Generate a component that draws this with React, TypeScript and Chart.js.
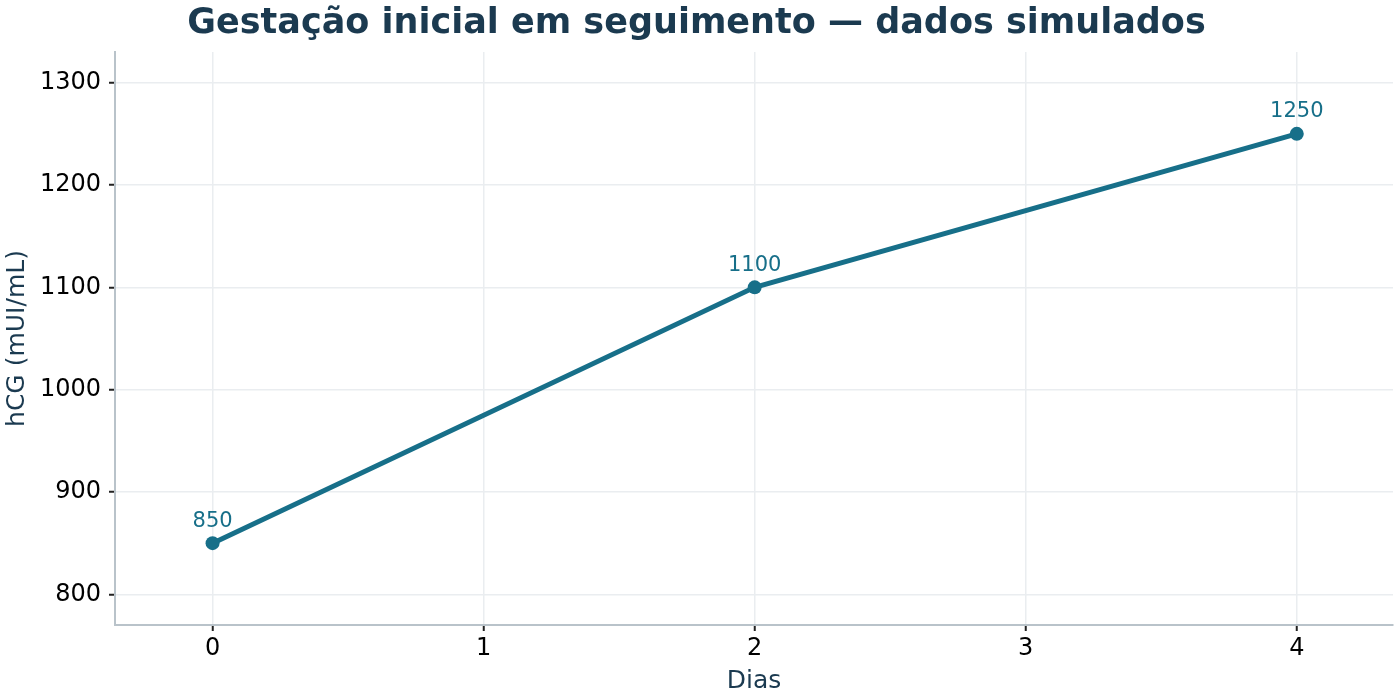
import React, { useRef, useEffect } from "react";
import Chart from "chart.js/auto";

const days = [0, 2, 4];
const hcgValues = [850, 1100, 1250];
const yTickValues = [800, 900, 1000, 1100, 1200, 1300];

const lineColor = "#176f89";
const textDark = "#1b3a50";

const pointLabels = {
  id: "pointLabels",
  afterDatasetsDraw(chart: Chart) {
    const ctx = chart.ctx;
    const meta = chart.getDatasetMeta(0);
    ctx.save();
    ctx.font = "21px 'DejaVu Sans'";
    ctx.fillStyle = lineColor;
    ctx.textAlign = "center";
    ctx.textBaseline = "middle";
    meta.data.forEach((pt: any, i: number) => {
      ctx.fillText(String(hcgValues[i]), pt.x, pt.y - 22);
    });
    ctx.restore();
  },
};

const App = () => {
  const chartRef = useRef<HTMLCanvasElement | null>(null);
  const chartInstanceRef = useRef<Chart | null>(null);

  useEffect(() => {
    document.body.style.margin = "0";
    const ctx = chartRef.current?.getContext("2d");

    if (chartInstanceRef.current) {
      chartInstanceRef.current.destroy();
    }

    if (ctx) {
      chartInstanceRef.current = new Chart(ctx, {
        type: "line",
        data: {
          datasets: [
            {
              label: "hCG",
              data: days.map((d, i) => ({ x: d, y: hcgValues[i] })),
              borderColor: lineColor,
              backgroundColor: lineColor,
              borderWidth: 5,
              pointRadius: 7,
              pointBorderWidth: 0,
              pointBackgroundColor: lineColor,
              tension: 0,
            },
          ],
        },
        options: {
          responsive: false,
          animation: false,
          layout: { padding: { top: 0, left: 0, right: 7, bottom: 4 } },
          plugins: {
            legend: { display: false },
            tooltip: { enabled: false },
            title: {
              display: true,
              text: "Gestação inicial em seguimento — dados simulados",
              color: textDark,
              font: { family: "'DejaVu Sans'", size: 35, weight: "bold" },
              padding: { top: 3, bottom: 7 },
            },
          },
          scales: {
            x: {
              type: "linear",
              min: -0.36,
              max: 4.355,
              afterFit: (scale: any) => {
                scale.height = 71;
              },
              ticks: {
                stepSize: 1,
                includeBounds: false,
                color: "#000",
                padding: 3,
                font: { family: "'DejaVu Sans'", size: 24 },
                callback: (v: any) => String(v),
              },
              grid: {
                color: "#eaedf0",
                lineWidth: 1.5,
                tickColor: "#222",
                tickLength: 6,
                tickWidth: 2,
              },
              border: { color: "#b9c3ca", width: 2 },
              title: {
                display: true,
                text: "Dias",
                color: textDark,
                font: { family: "'DejaVu Sans'", size: 25 },
                padding: { top: 0, bottom: 0 },
              },
            },
            y: {
              type: "linear",
              min: 770,
              max: 1330,
              afterFit: (scale: any) => {
                scale.width = 115;
              },
              afterBuildTicks: (scale: any) => {
                scale.ticks = yTickValues.map((v) => ({ value: v }));
              },
              ticks: {
                color: "#000",
                padding: 8,
                font: { family: "'DejaVu Sans'", size: 24 },
                callback: (v: any) => String(v),
              },
              grid: {
                color: "#eaedf0",
                lineWidth: 1.5,
                tickColor: "#222",
                tickLength: 6,
                tickWidth: 2,
              },
              border: { color: "#b9c3ca", width: 2 },
              title: {
                display: true,
                text: "hCG (mUI/mL)",
                color: textDark,
                font: { family: "'DejaVu Sans'", size: 25 },
                padding: { top: 2, bottom: 0 },
              },
            },
          },
        },
        plugins: [pointLabels],
      });
    }

    return () => {
      if (chartInstanceRef.current) {
        chartInstanceRef.current.destroy();
      }
    };
  }, []);

  return (
    <div style={{ width: 1400, height: 700, background: "#fff" }}>
      <canvas ref={chartRef} width={1400} height={700}></canvas>
    </div>
  );
};

export default App;
